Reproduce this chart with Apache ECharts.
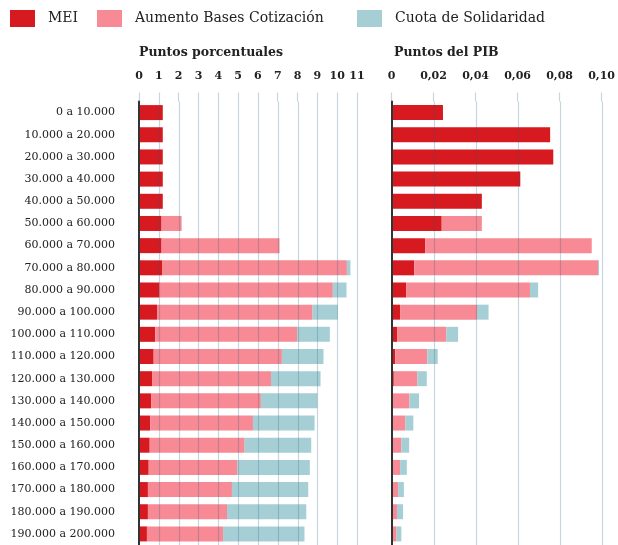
<!DOCTYPE html>
<html>
<head>
<meta charset="utf-8">
<script src="https://cdn.jsdelivr.net/npm/echarts@6/dist/echarts.min.js"></script>
<style>
html,body{margin:0;padding:0;background:#fff;}
#c{width:618px;height:545px;}
</style>
</head>
<body>
<div id="c"></div>
<script>
var categories = ["0 a 10.000","10.000 a 20.000","20.000 a 30.000","30.000 a 40.000","40.000 a 50.000","50.000 a 60.000","60.000 a 70.000","70.000 a 80.000","80.000 a 90.000","90.000 a 100.000","100.000 a 110.000","110.000 a 120.000","120.000 a 130.000","130.000 a 140.000","140.000 a 150.000","150.000 a 160.000","160.000 a 170.000","170.000 a 180.000","180.000 a 190.000","190.000 a 200.000"];

// Puntos porcentuales
var meiPP = [1.2,1.2,1.2,1.2,1.2,1.14,1.14,1.16,1.04,0.91,0.82,0.74,0.66,0.61,0.57,0.54,0.49,0.45,0.45,0.40];
var basesPP = [0,0,0,0,0,1.01,5.95,9.33,8.74,7.85,7.16,6.47,6.0,5.54,5.18,4.79,4.48,4.24,3.99,3.84];
var cuotaPP = [0,0,0,0,0,0,0,0.18,0.69,1.27,1.65,2.10,2.5,2.85,3.11,3.36,3.65,3.85,4.0,4.11];

// Puntos del PIB
var meiPIB = [0.0245,0.0755,0.077,0.0613,0.043,0.0239,0.016,0.0108,0.007,0.0041,0.0027,0.0018,0.0011,0.0006,0.0005,0.0005,0.0004,0.0003,0.0003,0.0003];
var basesPIB = [0,0,0,0,0,0.0191,0.0793,0.0875,0.0589,0.0366,0.0234,0.0153,0.0112,0.0079,0.0061,0.0042,0.0037,0.0029,0.0023,0.0021];
var cuotaPIB = [0,0,0,0,0,0,0,0.0005,0.0039,0.0055,0.0056,0.0049,0.0045,0.0046,0.0038,0.0037,0.0032,0.0027,0.0029,0.0023];

// Tick values (for the grid lines drawn over the bars)
var ticksPP = [1,2,3,4,5,6,7,8,9,10,11];
var ticksPIB = [0.02,0.04,0.06,0.08,0.10];

var names = ["MEI","Aumento Bases Cotización","Cuota de Solidaridad"];
var colors = ["#d71920","#f78a94","#a6cfd5"];

var FONT = "DejaVu Serif";
var gridColor = "rgba(40,95,125,0.26)";

function xAxisCfg(gi, max, interval, fmt) {
  return {
    type: "value", gridIndex: gi, position: "top", min: 0, max: max, interval: interval,
    axisLine: {show: false},
    axisTick: {show: true, length: 9, lineStyle: {color: gridColor, width: 1.2}},
    splitLine: {show: false},
    axisLabel: {margin: 20, color: "#222", fontFamily: FONT, fontSize: 11, fontWeight: "bold", formatter: fmt}
  };
}
function yAxisCfg(gi, showLabel) {
  return {
    type: "category", gridIndex: gi, data: categories, inverse: true, z: 30,
    axisLine: {show: true, lineStyle: {color: "#333", width: 2}},
    axisTick: {show: false},
    axisLabel: {show: showLabel, margin: 24, color: "#222", fontFamily: FONT, fontSize: 11}
  };
}
function mk(name, data, xi, color) {
  return {
    name: name, type: "bar", stack: "s" + xi, xAxisIndex: xi, yAxisIndex: xi,
    barWidth: 15, data: data, itemStyle: {color: color}, animation: false, z: 1
  };
}
function gridLines(xi, ticks) {
  return {
    type: "custom", xAxisIndex: xi, yAxisIndex: xi, z: 20, silent: true, animation: false,
    data: ticks.map(function(t){ return [t]; }),
    encode: {x: 0},
    renderItem: function(params, api) {
      var cs = params.coordSys;
      var x = Math.round(api.coord([api.value(0), 0])[0]) + 0.5;
      return {
        type: "line", z2: 100,
        shape: {x1: x, y1: cs.y, x2: x, y2: cs.y + cs.height},
        style: {stroke: gridColor, lineWidth: 1.2}
      };
    }
  };
}
function leg(left, name) {
  return {
    left: left, top: 10, padding: 0, data: [name], icon: "rect", itemWidth: 25, itemHeight: 17,
    textStyle: {fontFamily: FONT, fontSize: 14, color: "#222", padding: [0,0,0,8]},
    selectedMode: false
  };
}

var chart = echarts.init(document.getElementById("c"));
chart.setOption({
  backgroundColor: "#fff",
  animation: false,
  color: colors,
  legend: [leg(10, names[0]), leg(97, names[1]), leg(357, names[2])],
  title: [
    {text: "Puntos porcentuales", left: 134, top: 41, textStyle: {fontFamily: FONT, fontSize: 12.5, fontWeight: "bold", color: "#222"}},
    {text: "Puntos del PIB", left: 389, top: 41, textStyle: {fontFamily: FONT, fontSize: 12.5, fontWeight: "bold", color: "#222"}}
  ],
  grid: [
    {left: 139, top: 101.5, width: 218, height: 446, containLabel: false},
    {left: 391.5, top: 101.5, width: 218.5, height: 446, containLabel: false}
  ],
  xAxis: [
    xAxisCfg(0, 11, 1, function(v){ return String(v); }),
    xAxisCfg(1, 0.1, 0.02, function(v){ return v === 0 ? "0" : v.toFixed(2).replace(".", ","); })
  ],
  yAxis: [yAxisCfg(0, true), yAxisCfg(1, false)],
  series: [
    mk(names[0], meiPP, 0, colors[0]),
    mk(names[1], basesPP, 0, colors[1]),
    mk(names[2], cuotaPP, 0, colors[2]),
    mk(names[0], meiPIB, 1, colors[0]),
    mk(names[1], basesPIB, 1, colors[1]),
    mk(names[2], cuotaPIB, 1, colors[2]),
    gridLines(0, ticksPP),
    gridLines(1, ticksPIB)
  ]
});
</script>
</body>
</html>
